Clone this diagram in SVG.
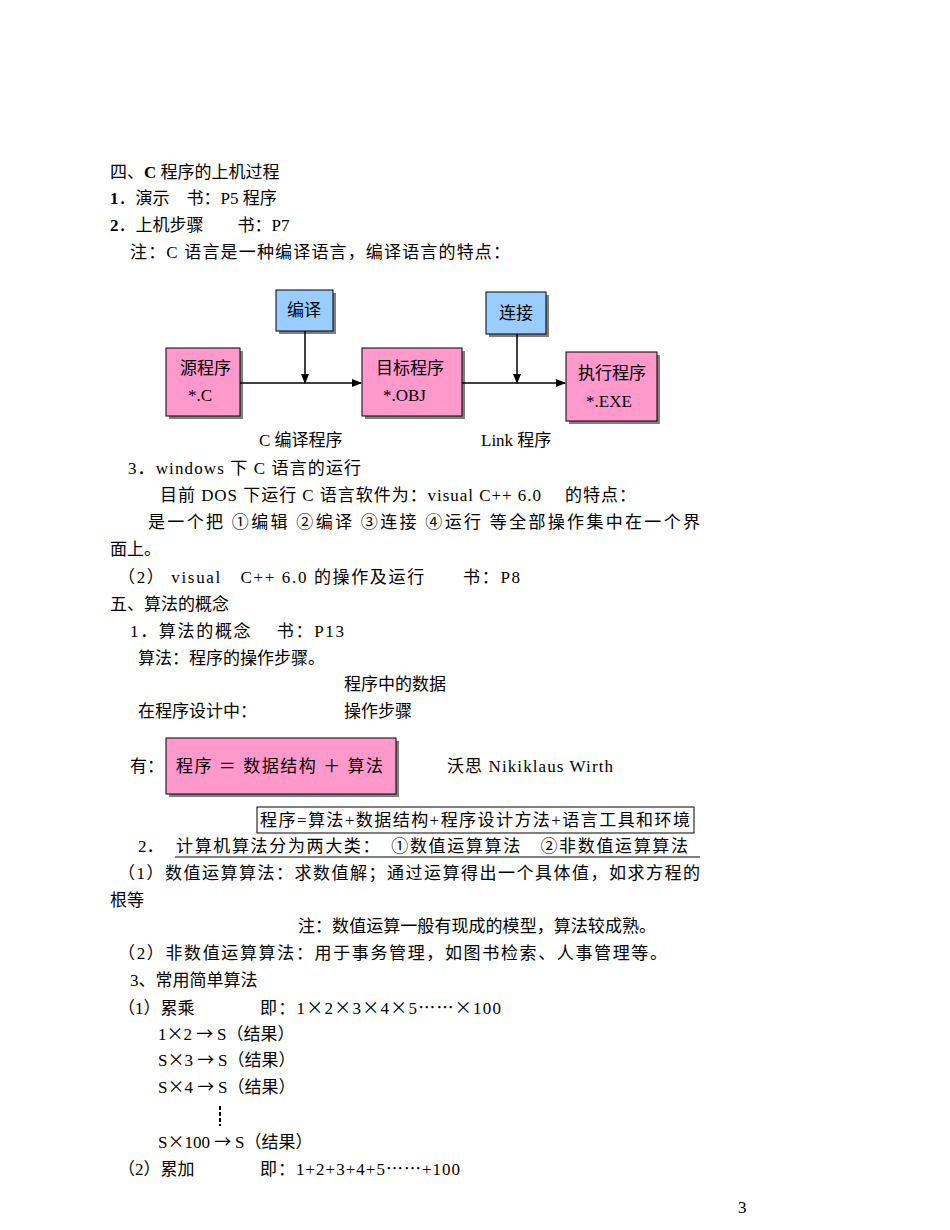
<svg xmlns="http://www.w3.org/2000/svg" width="950" height="1230" viewBox="0 0 950 1230">
<style>
text{font-family:"Liberation Serif","Noto Sans CJK SC",serif;font-size:17px;fill:#000}
.c{font-family:"Noto Sans CJK SC",sans-serif}
.pink{fill:#ff99cc;stroke:#000;stroke-width:1}
.blue{fill:#99ccff;stroke:#000;stroke-width:1}
.sh{fill:#808080}
.ln{stroke:#000;stroke-width:1.5;fill:none}
</style>
<defs><marker id="ah" markerWidth="10" markerHeight="8" refX="9" refY="4" orient="auto" markerUnits="userSpaceOnUse"><path d="M0,0L10,4L0,8z" fill="#000"/></marker></defs>
<rect width="950" height="1230" fill="#fff"/>
<text x="110" y="178">四、<tspan font-weight="bold">C</tspan> 程序的上机过程</text>
<text x="110" y="204"><tspan font-weight="bold">1</tspan>．演示　书：P5  程序</text>
<text x="110" y="231"><tspan font-weight="bold">2</tspan>．上机步骤　　书：P7</text>
<text x="130" y="258" textLength="380">注：C 语言是一种编译语言，编译语言的特点：</text>
<g id="n-bianyi"><rect class="sh" x="279" y="293" width="57" height="41"/><rect class="blue" x="276" y="290" width="57" height="41"/><text x="304" y="316" text-anchor="middle" font-size="15">编译</text></g>
<g id="n-lianjie"><rect class="sh" x="489" y="295" width="60" height="42"/><rect class="blue" x="486" y="292" width="60" height="42"/><text x="516" y="319" text-anchor="middle" font-size="15">连接</text></g>
<g id="n-src"><rect class="sh" x="169" y="351" width="74" height="68"/><rect class="pink" x="166" y="348" width="74" height="68"/><text x="180" y="374" font-size="15">源程序</text><text x="188" y="401" font-size="15">*.C</text></g>
<g id="n-obj"><rect class="sh" x="365" y="351" width="100" height="68"/><rect class="pink" x="362" y="348" width="100" height="68"/><text x="376" y="374" font-size="15">目标程序</text><text x="383" y="401" font-size="15">*.OBJ</text></g>
<g id="n-exe"><rect class="sh" x="569" y="355" width="91" height="69"/><rect class="pink" x="566" y="352" width="91" height="69"/><text x="578" y="379" font-size="15">执行程序</text><text x="586" y="407" font-size="15">*.EXE</text></g>
<g id="connectors">
<line class="ln" x1="240" y1="383" x2="361" y2="383" marker-end="url(#ah)"/>
<line class="ln" x1="305" y1="331" x2="305" y2="383" marker-end="url(#ah)"/>
<line class="ln" x1="462" y1="383" x2="565" y2="383" marker-end="url(#ah)"/>
<line class="ln" x1="517" y1="334" x2="517" y2="383" marker-end="url(#ah)"/>
</g>
<text x="259" y="446">C 编译程序</text>
<text x="481" y="446">Link 程序</text>
<text x="128" y="474" textLength="233">3．windows 下 C 语言的运行</text>
<text x="160" y="501" textLength="476">目前 DOS 下运行 C 语言软件为：visual C++ 6.0　 的特点：</text>
<text x="148" y="528" textLength="552">是一个把  ①编辑  ②编译  ③连接  ④运行  等全部操作集中在一个界</text>
<text x="110" y="555">面上。</text>
<text x="118" y="583" textLength="402">（2）  visual　C++ 6.0 的操作及运行　　书：P8</text>
<text x="110" y="610">五、算法的概念</text>
<text x="130" y="637" textLength="214">1．算法的概念　 书：P13</text>
<text x="138" y="664">算法：程序的操作步骤。</text>
<text x="344" y="690">程序中的数据</text>
<text x="138" y="717">在程序设计中：</text>
<text x="344" y="717">操作步骤</text>
<text x="130" y="772">有：</text>
<g id="n-formula"><rect class="sh" x="169" y="741" width="230" height="56"/><rect class="pink" x="166" y="738" width="230" height="56"/><text x="176" y="772" textLength="207">程序 ＝ 数据结构 ＋ 算法</text></g>
<text x="447" y="772" textLength="166">沃思  Nikiklaus Wirth</text>
<rect x="257" y="807" width="437" height="26" fill="none" stroke="#000"/>
<text x="260" y="826" textLength="430">程序=算法+数据结构+程序设计方法+语言工具和环境</text>
<text x="138" y="852">2．</text>
<text x="176" y="852" textLength="512">计算机算法分为两大类：　①数值运算算法　②非数值运算算法</text>
<line x1="175" y1="857" x2="700" y2="857" stroke="#000"/>
<text x="118" y="879" textLength="582">（1）数值运算算法：求数值解；通过运算得出一个具体值，如求方程的</text>
<text x="110" y="906">根等</text>
<text x="298" y="932" textLength="358">注：数值运算一般有现成的模型，算法较成熟。</text>
<text x="118" y="959" textLength="549">（2）非数值运算算法：用于事务管理，如图书检索、人事管理等。</text>
<text x="130" y="986">3、常用简单算法</text>
<text x="118" y="1014">（1）累乘</text><text x="260" y="1014" textLength="241">即：1<tspan class="c">×</tspan>2<tspan class="c">×</tspan>3<tspan class="c">×</tspan>4<tspan class="c">×</tspan>5<tspan class="c">……×</tspan>100</text>
<text x="158" y="1040">1<tspan class="c">×</tspan>2 <tspan class="c"> → </tspan> S（结果）</text>
<text x="158" y="1066">S<tspan class="c">×</tspan>3 <tspan class="c"> → </tspan> S（结果）</text>
<text x="158" y="1093">S<tspan class="c">×</tspan>4 <tspan class="c"> → </tspan> S（结果）</text>
<line x1="220" y1="1106" x2="220" y2="1126" stroke="#000" stroke-width="2" stroke-dasharray="4,2"/>
<text x="158" y="1148">S<tspan class="c">×</tspan>100 <tspan class="c"> → </tspan> S（结果）</text>
<text x="118" y="1175">（2）累加</text><text x="260" y="1175" textLength="200">即：1+2+3+4+5<tspan class="c">……</tspan>+100</text>
<text x="738" y="1213" font-size="12">3</text>
</svg>
